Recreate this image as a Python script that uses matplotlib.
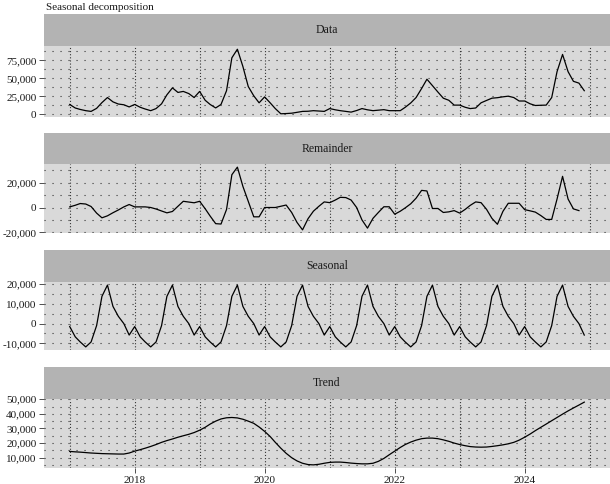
import pandas as pd
import matplotlib.pyplot as plt
import matplotlib.dates as mdates
from matplotlib.ticker import FuncFormatter, MultipleLocator

# monthly series, Jan 2017 - Dec 2024
months = pd.date_range("2017-01-01", "2024-12-01", freq="MS")

data_vals = [
    13900, 9000, 7000, 5300, 4300, 8500, 16500, 23500, 17500, 14500, 13500, 10500,
    13900, 10000, 7600, 5300, 8200, 14800, 27300, 36900, 30600, 32000, 29000, 23500,
    32000, 19700, 13900, 9100, 13900, 33000, 78600, 90500, 66500, 38800, 25900, 16200,
    24400, 16200, 8200, 1000, 1300, 1800, 3000, 4300, 4500, 5300, 4800, 4300,
    8200, 6500, 5300, 4300, 3300, 5500, 8200, 6500, 5300, 6000, 6700, 5300,
    5300, 5300, 10000, 16000, 23500, 36000, 48900, 40000, 31000, 22600, 19700, 13000,
    13000, 10000, 8200, 9000, 16200, 19500, 22600, 23300, 24500, 25400, 23500, 18700,
    18700, 14800, 12500, 12800, 13000, 23500, 59400, 83300, 59400, 46000, 43500, 33000,
]

# remainder stops one month early (Nov 2024)
remainder_vals = [
    500, 1800, 3200, 2800, 800, -4500, -8300, -6700, -4200, -2000, 500, 2400,
    500, 500, 500, 0, -1200, -2800, -4300, -3200, 1000, 5000, 4400, 3800,
    5000, -1000, -6900, -13000, -13300, -1600, 26400, 32500, 17000, 5000, -7500, -7500,
    0, 0, 0, 1000, 2000, -4000, -12000, -18000, -9000, -3000, 1000, 4500,
    3900, 6000, 8200, 8000, 6000, 0, -10000, -16600, -8700, -4000, 600, 600,
    -5400, -3000, -300, 3000, 7500, 13800, 13300, -800, -800, -4000, -3500, -2500,
    -4500, -1500, 1700, 4500, 3900, -1500, -8700, -13500, -3100, 3400, 3400, 3400,
    -1700, -2700, -3700, -6500, -9600, -9600, 6800, 25100, 6800, -1100, -2500,
]

seasonal_year = [-1500, -6700, -9300, -11800, -9300, -1000,
                 13800, 19500, 8700, 3700, 0, -5800]
seasonal_vals = seasonal_year * 8

trend_vals = [
    14300, 14000, 13800, 13500, 13200, 13000, 12800, 12700, 12600, 12500, 12500, 13200,
    14500, 15500, 16500, 17700, 19000, 20500, 21700, 22800, 24000, 25000, 26000, 27200,
    28800, 30800, 33000, 35000, 36500, 37300, 37500, 37200, 36300, 35000, 33500, 31000,
    28000, 24500, 20500, 16500, 13000, 10000, 7800, 6200, 5300, 5100, 5500, 6200,
    6800, 7000, 7000, 6700, 6300, 6000, 5800, 5800, 6200, 7500, 9500, 12000,
    14500, 17000, 19000, 20700, 22000, 23000, 23400, 23400, 23000, 22200, 21200, 20000,
    19000, 18200, 17600, 17300, 17200, 17300, 17700, 18200, 18800, 19500, 20500, 22000,
    24000, 26200, 28500, 30800, 33000, 35300, 37500, 39800, 42000, 44000, 46000, 48000,
]

# name, values, major step, strip top px, panel top px, panel bottom px
panels = [
    ("Data", data_vals, 25000, 14, 46, 117),
    ("Remainder", remainder_vals, 20000, 133, 164, 233),
    ("Seasonal", seasonal_vals, 10000, 250, 282, 350),
    ("Trend", trend_vals, 10000, 367, 399, 468),
]

W, H = 610, 484
STRIP = "#b3b3b3"
PANEL = "#d9d9d9"
GRID = "#333333"
FONT = "Liberation Serif"

plt.rcParams["font.family"] = FONT
fig = plt.figure(figsize=(W / 100, H / 100), dpi=100)

x0, x1 = months[0], months[-1]
pad = (x1 - x0) * 0.05
left = 44 / W

for i, (name, vals, step, s_top, p_top, p_bot) in enumerate(panels):
    strip = fig.add_axes([left, 1 - p_top / H, 1 - left, (p_top - s_top) / H])
    strip.set_facecolor(STRIP)
    strip.set_xticks([])
    strip.set_yticks([])
    for sp in strip.spines.values():
        sp.set_visible(False)
    strip.text(0.5, 0.5, name, ha="center", va="center", fontsize=8.5,
               color="#1a1a1a", transform=strip.transAxes)

    ax = fig.add_axes([left, 1 - p_bot / H, 1 - left, (p_bot - p_top) / H])
    ax.set_facecolor(PANEL)
    for sp in ax.spines.values():
        sp.set_visible(False)

    x = months[:len(vals)]
    ax.plot(x, vals, color="black", linewidth=0.9, zorder=3)

    lo, hi = min(vals), max(vals)
    r = (hi - lo) * 0.05
    ax.set_ylim(lo - r, hi + r)
    ax.set_xlim(x0 - pad, x1 + pad)

    ax.yaxis.set_major_locator(MultipleLocator(step))
    ax.yaxis.set_minor_locator(MultipleLocator(step / 2))
    ax.yaxis.set_major_formatter(FuncFormatter(lambda v, p: f"{v:,.0f}"))
    ax.xaxis.set_major_locator(mdates.YearLocator(2))
    ax.xaxis.set_minor_locator(mdates.YearLocator(1))
    ax.xaxis.set_major_formatter(mdates.DateFormatter("%Y"))

    ax.grid(True, which="both", axis="y", color=GRID, linewidth=0.8,
            linestyle=(0, (1, 6.2)), zorder=1)
    ax.grid(True, which="both", axis="x", color=GRID, linewidth=0.8,
            linestyle=(0, (1, 1.8)), zorder=1)

    ax.tick_params(axis="y", which="major", length=3.5, width=0.6,
                   color="#333333", labelsize=8, labelcolor="#1a1a1a", pad=2)
    ax.tick_params(axis="both", which="minor", length=0)
    if i < len(panels) - 1:
        ax.tick_params(axis="x", which="major", length=0, labelbottom=False)
    else:
        ax.tick_params(axis="x", which="major", length=3.5, width=0.6,
                       color="#333333", labelsize=8, labelcolor="#1a1a1a", pad=2)

fig.text(46 / W, 1 - 8 / H, "Seasonal decomposition", ha="left", va="center",
         fontsize=8, color="#1a1a1a")

fig.savefig("out.png", dpi=100)
